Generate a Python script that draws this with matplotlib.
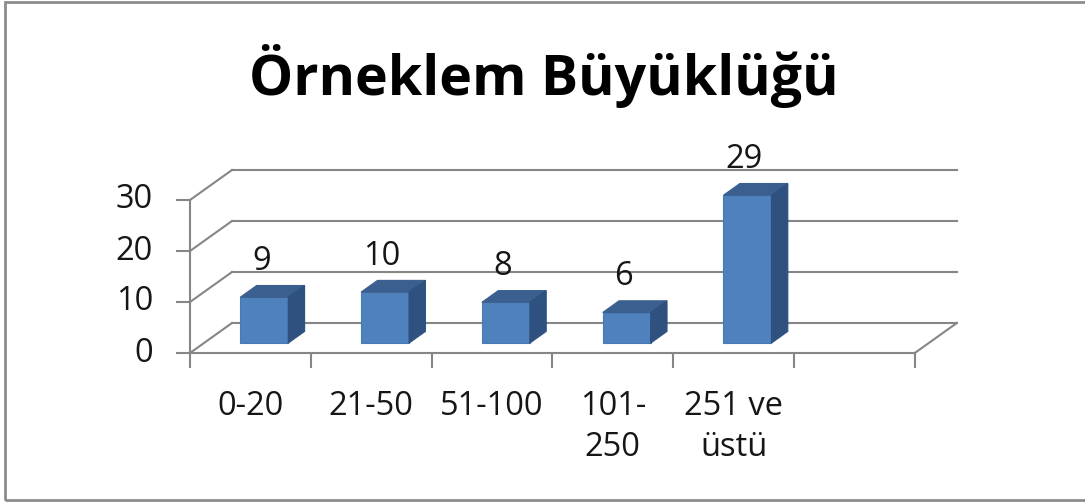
import matplotlib.pyplot as plt
from matplotlib.patches import Polygon

categories = ['0-20', '21-50', '51-100', '101-\n250', '251 ve\nüstü', '']
values = [9, 10, 8, 6, 29]
yticks = [0, 10, 20, 30]
title = 'Örneklem Büyüklüğü'

plt.rcParams['font.family'] = ['Open Sans', 'DejaVu Sans']

# pixel scale of the front plane: one category = 120.8 px, one unit = 5.1 px
W, H = 1085, 503
x0, y0 = 190, 353
cx, cy = 120.8, 5.1
# depth offset of the back wall in data units
DX, DY = 42 / cx, 30 / cy

fig = plt.figure(figsize=(W / 100, H / 100), dpi=100)
ax = fig.add_axes([0, 0, 1, 1])
ax.set_xlim(-x0 / cx, (W - x0) / cx)
ax.set_ylim(-(H - y0) / cy, y0 / cy)
ax.axis('off')

grid = '#868686'
lw = 1.5
n = len(categories)
ymax = yticks[-1]
fs = 23.5
txt = '#161616'

# back wall gridlines and side wall diagonals
for t in yticks:
    ax.plot([DX, n + DX], [t + DY, t + DY], color=grid, lw=lw, zorder=1)
    ax.plot([0, DX], [t, t + DY], color=grid, lw=lw, zorder=1)
# floor
ax.plot([0, n], [0, 0], color=grid, lw=lw, zorder=1)
ax.plot([n, n + DX], [0, DY], color=grid, lw=lw, zorder=1)
# vertical axis
ax.plot([0, 0], [0, ymax], color=grid, lw=lw, zorder=1)
for t in yticks:
    ax.plot([-13 / cx, 0], [t, t], color=grid, lw=lw, zorder=1)
    ax.text(-37 / cx, t, str(t), ha='right', va='center', fontsize=fs, color=txt)
for i in range(n + 1):
    ax.plot([i, i], [0, -14 / cy], color=grid, lw=lw, zorder=1)

# bars
z0, z1 = 0.33, 0.72
bw = 0.397
for i, v in enumerate(values):
    xl = i + 0.5 - bw / 2 + z0 * DX
    xr = xl + bw
    yb = z0 * DY
    yt = v + z0 * DY
    ddx, ddy = (z1 - z0) * DX, (z1 - z0) * DY
    front = Polygon([(xl, yb), (xr, yb), (xr, yt), (xl, yt)], closed=True,
                    facecolor='#4f81bd', edgecolor='#4a7ab5', lw=0.8, zorder=3)
    top = Polygon([(xl, yt), (xr, yt), (xr + ddx, yt + ddy), (xl + ddx, yt + ddy)], closed=True,
                  facecolor='#3b5f8f', edgecolor='#3b5f8f', lw=0.8, zorder=3)
    side = Polygon([(xr, yb), (xr + ddx, yb + ddy), (xr + ddx, yt + ddy), (xr, yt)], closed=True,
                   facecolor='#2f5180', edgecolor='#2f5180', lw=0.8, zorder=3)
    for p in (front, top, side):
        ax.add_patch(p)
    ax.text((xl + xr) / 2 - 3 / cx, v + z1 * DY + 24 / cy, str(v), ha='center', va='center',
            fontsize=fs, color=txt, zorder=4)

# category labels
for i, c in enumerate(categories):
    ax.text(i + 0.5, -37 / cy, c, ha='center', va='top', fontsize=fs, color=txt,
            linespacing=1.3)

fig.text(544 / W, 1 - 76 / H, title, ha='center', va='center', fontsize=40,
         fontweight='bold', color='black')

# outer frame (right edge falls outside the picture)
fig.patches.append(plt.Rectangle((4.5 / W, 3.5 / H), (W + 10) / W, (H - 5.5) / H,
                                 transform=fig.transFigure, fill=False,
                                 edgecolor='#8c8c8c', lw=2))

plt.savefig('out.png', dpi=100)
